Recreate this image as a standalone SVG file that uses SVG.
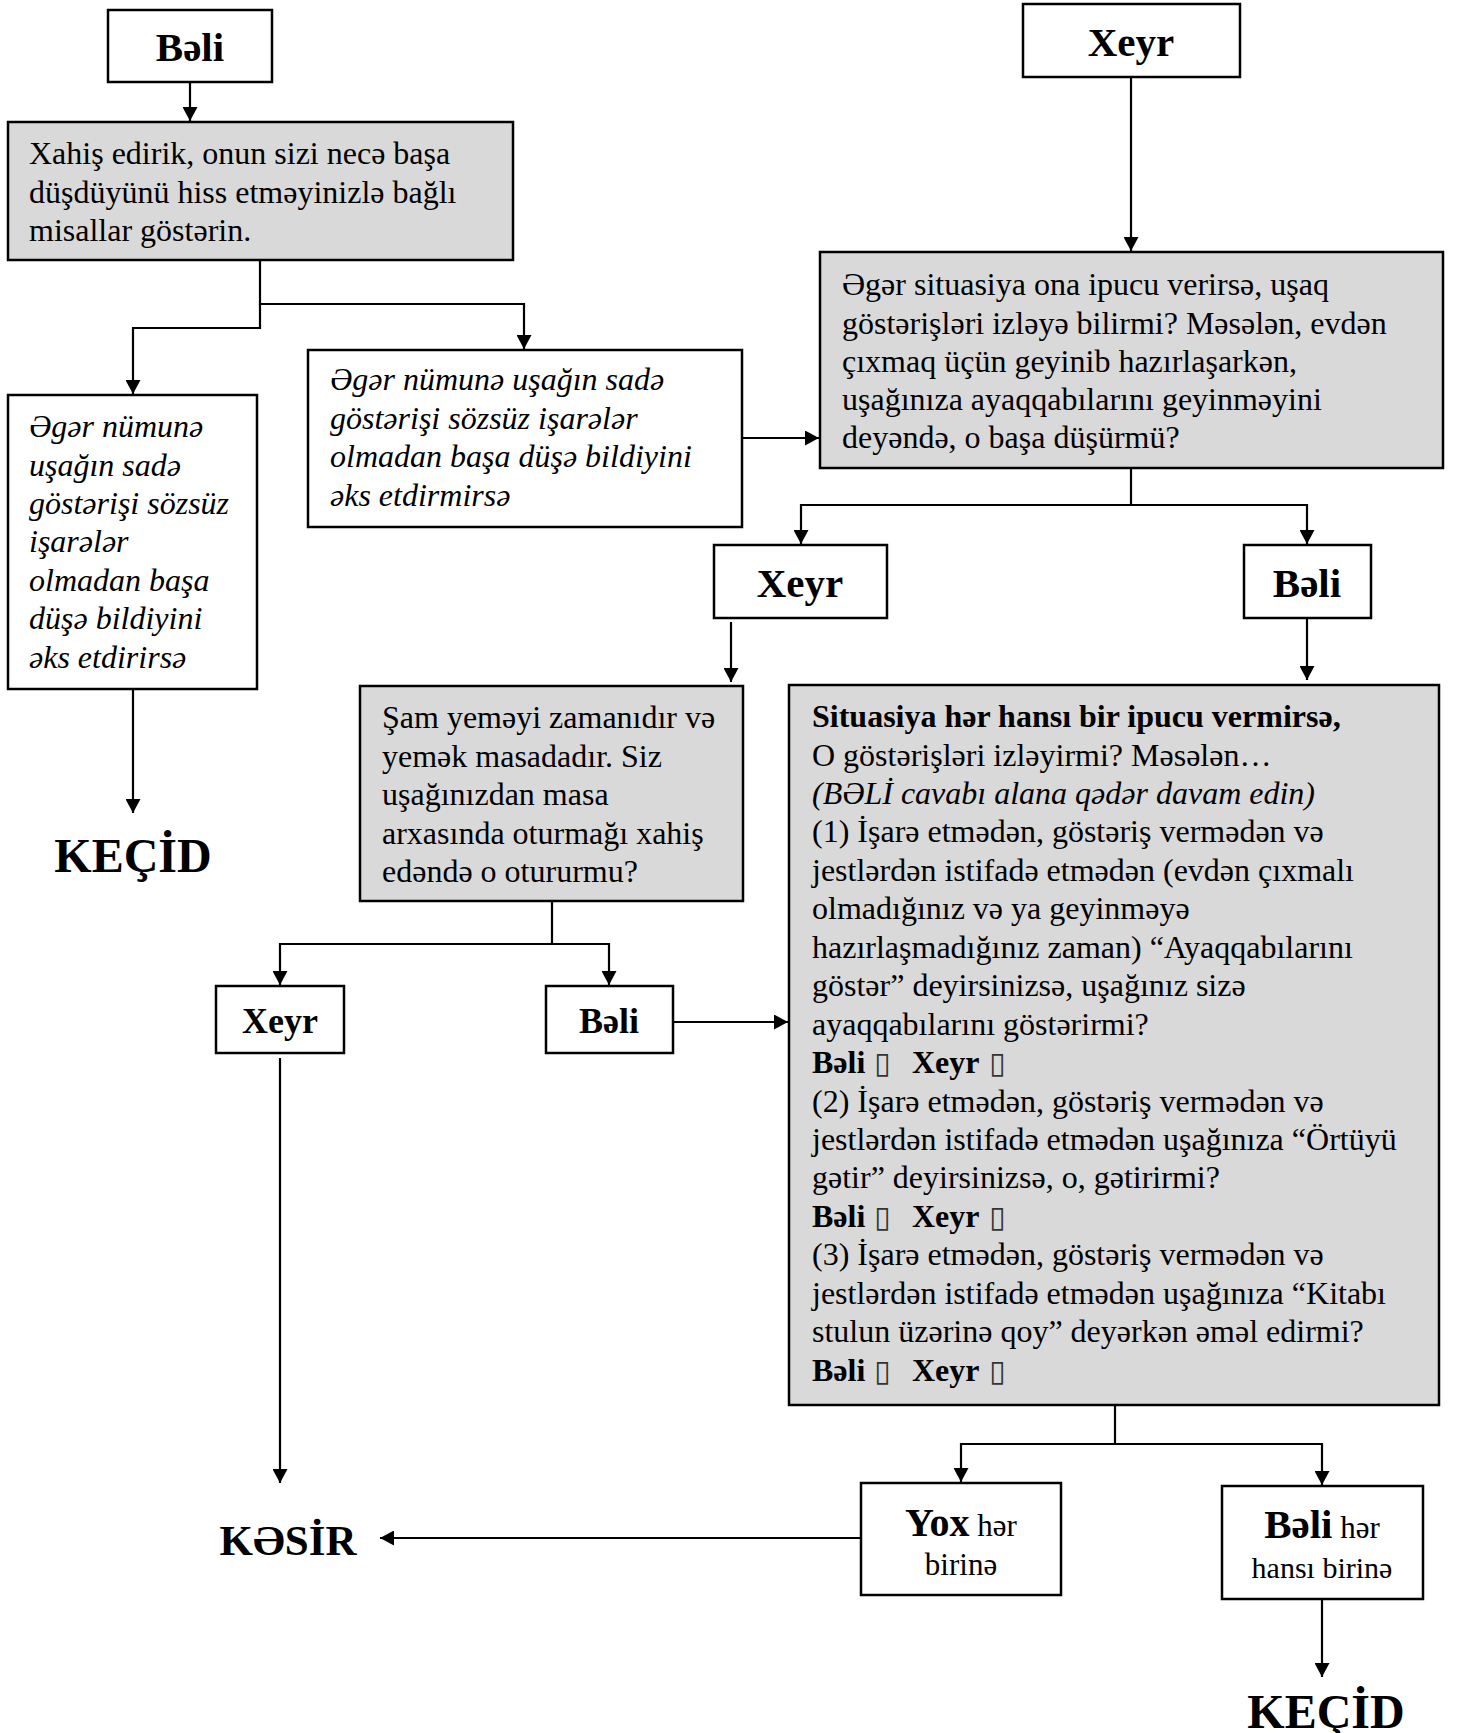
<svg xmlns="http://www.w3.org/2000/svg" width="1457" height="1733" viewBox="0 0 1457 1733">
<style>
.box{fill:#ffffff;stroke:#000;stroke-width:2.5}
.grey{fill:#d9d9d9;stroke:#000;stroke-width:2.5}
.t{font-family:"Liberation Serif","Times New Roman",serif;font-size:32px;fill:#000}
.it{font-style:italic}
.b{font-weight:bold}
.c{text-anchor:middle}
.lbl{font-size:41px;font-weight:bold}
.big{font-size:48px;font-weight:bold}
.chk{font-family:"DejaVu Sans",sans-serif;font-weight:normal;font-size:30px;fill:#333}
.conn path{fill:none;stroke:#000;stroke-width:2.2}
</style>
<defs>
<marker id="arr" markerUnits="userSpaceOnUse" markerWidth="15" markerHeight="15" refX="14" refY="7.5" orient="auto">
<path d="M0,0 L14,7.5 L0,15 z" fill="#000"/>
</marker>
</defs>
<rect width="1457" height="1733" fill="#fff"/>

<g class="conn">
<path d="M190,82 V121" marker-end="url(#arr)"/>
<path d="M260,260 V304 H524 V349" marker-end="url(#arr)"/>
<path d="M260,304 V328 H133 V394" marker-end="url(#arr)"/>
<path d="M133,689 V813" marker-end="url(#arr)"/>
<path d="M742,438 H819" marker-end="url(#arr)"/>
<path d="M1131,77 V251" marker-end="url(#arr)"/>
<path d="M1131,468 V505 H801 V544" marker-end="url(#arr)"/>
<path d="M1131,505 H1307 V544" marker-end="url(#arr)"/>
<path d="M731,622 V682" marker-end="url(#arr)"/>
<path d="M1307,618 V680" marker-end="url(#arr)"/>
<path d="M552,901 V944 H280 V985" marker-end="url(#arr)"/>
<path d="M552,944 H609 V985" marker-end="url(#arr)"/>
<path d="M673,1022 H788" marker-end="url(#arr)"/>
<path d="M280,1058 V1483" marker-end="url(#arr)"/>
<path d="M1115,1405 V1444 H961 V1482" marker-end="url(#arr)"/>
<path d="M1115,1444 H1322 V1485" marker-end="url(#arr)"/>
<path d="M861,1538 H380" marker-end="url(#arr)"/>
<path d="M1322,1599 V1677" marker-end="url(#arr)"/>
</g>

<g id="beli-top">
<rect class="box" x="108" y="10" width="164" height="72"/>
<text class="t lbl c" x="190" y="61">Bəli</text>
</g>

<g id="xahis">
<rect class="grey" x="8" y="122" width="505" height="138"/>
<text class="t">
<tspan x="29" y="164">Xahiş edirik, onun sizi necə başa</tspan>
<tspan x="29" y="202.5">düşdüyünü hiss etməyinizlə bağlı</tspan>
<tspan x="29" y="241">misallar göstərin.</tspan>
</text>
</g>

<g id="eks-etdirirse">
<rect class="box" x="8" y="395" width="249" height="294"/>
<text class="t it">
<tspan x="29" y="437">Əgər nümunə</tspan>
<tspan x="29" y="475.5">uşağın sadə</tspan>
<tspan x="29" y="514">göstərişi sözsüz</tspan>
<tspan x="29" y="552">işarələr</tspan>
<tspan x="29" y="591">olmadan başa</tspan>
<tspan x="29" y="629">düşə bildiyini</tspan>
<tspan x="29" y="668">əks etdirirsə</tspan>
</text>
</g>

<g id="kecid-left">
<text class="t big c" x="133" y="872">KEÇİD</text>
</g>

<g id="eks-etdirmirse">
<rect class="box" x="308" y="350" width="434" height="177"/>
<text class="t it">
<tspan x="330" y="390">Əgər nümunə uşağın sadə</tspan>
<tspan x="330" y="429">göstərişi sözsüz işarələr</tspan>
<tspan x="330" y="467">olmadan başa düşə bildiyini</tspan>
<tspan x="330" y="506">əks etdirmirsə</tspan>
</text>
</g>

<g id="xeyr-top">
<rect class="box" x="1023" y="4" width="217" height="73"/>
<text class="t lbl c" x="1131" y="56">Xeyr</text>
</g>

<g id="situasiya-ipucu">
<rect class="grey" x="820" y="252" width="623" height="216"/>
<text class="t">
<tspan x="842" y="295">Əgər situasiya ona ipucu verirsə, uşaq</tspan>
<tspan x="842" y="334">göstərişləri izləyə bilirmi? Məsələn, evdən</tspan>
<tspan x="842" y="372">çıxmaq üçün geyinib hazırlaşarkən,</tspan>
<tspan x="842" y="410">uşağınıza ayaqqabılarını geyinməyini</tspan>
<tspan x="842" y="448">deyəndə, o başa düşürmü?</tspan>
</text>
</g>

<g id="xeyr-mid">
<rect class="box" x="714" y="545" width="173" height="73"/>
<text class="t lbl c" x="800" y="597">Xeyr</text>
</g>

<g id="beli-mid">
<rect class="box" x="1244" y="545" width="127" height="73"/>
<text class="t lbl c" x="1307" y="597">Bəli</text>
</g>

<g id="sam-yemeyi">
<rect class="grey" x="360" y="686" width="383" height="215"/>
<text class="t">
<tspan x="382" y="728">Şam yeməyi zamanıdır və</tspan>
<tspan x="382" y="767">yemək masadadır. Siz</tspan>
<tspan x="382" y="805">uşağınızdan masa</tspan>
<tspan x="382" y="844">arxasında oturmağı xahiş</tspan>
<tspan x="382" y="882">edəndə o otururmu?</tspan>
</text>
</g>

<g id="situasiya-yox">
<rect class="grey" x="789" y="685" width="650" height="720"/>
<text class="t">
<tspan x="812" y="727" class="b">Situasiya hər hansı bir ipucu vermirsə,</tspan>
<tspan x="812" y="765.5">O göstərişləri izləyirmi? Məsələn…</tspan>
<tspan x="812" y="804" class="it">(BƏLİ cavabı alana qədər davam edin)</tspan>
<tspan x="812" y="842">(1) İşarə etmədən, göstəriş vermədən və</tspan>
<tspan x="812" y="881">jestlərdən istifadə etmədən (evdən çıxmalı</tspan>
<tspan x="812" y="919">olmadığınız və ya geyinməyə</tspan>
<tspan x="812" y="958">hazırlaşmadığınız zaman) “Ayaqqabılarını</tspan>
<tspan x="812" y="996">göstər” deyirsinizsə, uşağınız sizə</tspan>
<tspan x="812" y="1035">ayaqqabılarını göstərirmi?</tspan>
<tspan x="812" y="1073" class="b">Bəli</tspan><tspan x="874" y="1073" class="chk">▯</tspan><tspan x="912" y="1073" class="b">Xeyr</tspan><tspan x="989" y="1073" class="chk">▯</tspan>
<tspan x="812" y="1112">(2) İşarə etmədən, göstəriş vermədən və</tspan>
<tspan x="812" y="1150">jestlərdən istifadə etmədən uşağınıza “Örtüyü</tspan>
<tspan x="812" y="1188">gətir” deyirsinizsə, o, gətirirmi?</tspan>
<tspan x="812" y="1227" class="b">Bəli</tspan><tspan x="874" y="1227" class="chk">▯</tspan><tspan x="912" y="1227" class="b">Xeyr</tspan><tspan x="989" y="1227" class="chk">▯</tspan>
<tspan x="812" y="1265">(3) İşarə etmədən, göstəriş vermədən və</tspan>
<tspan x="812" y="1304">jestlərdən istifadə etmədən uşağınıza “Kitabı</tspan>
<tspan x="812" y="1342">stulun üzərinə qoy” deyərkən əməl edirmi?</tspan>
<tspan x="812" y="1381" class="b">Bəli</tspan><tspan x="874" y="1381" class="chk">▯</tspan><tspan x="912" y="1381" class="b">Xeyr</tspan><tspan x="989" y="1381" class="chk">▯</tspan>
</text>
</g>

<g id="xeyr-low">
<rect class="box" x="216" y="986" width="128" height="67"/>
<text class="t b c" x="280" y="1033" style="font-size:36px">Xeyr</text>
</g>

<g id="beli-low">
<rect class="box" x="546" y="986" width="127" height="67"/>
<text class="t b c" x="609" y="1033" style="font-size:36px">Bəli</text>
</g>

<g id="kesir">
<text class="t b c" x="288" y="1555" style="font-size:43px">KƏSİR</text>
</g>

<g id="yox-her-birine">
<rect class="box" x="861" y="1483" width="200" height="112"/>
<text class="t c" x="961" y="1536" style="font-size:31px"><tspan class="b" style="font-size:40px">Yox</tspan> hər</text>
<text class="t c" x="961" y="1575" style="font-size:31px">birinə</text>
</g>

<g id="beli-her-hansi">
<rect class="box" x="1222" y="1486" width="201" height="113"/>
<text class="t c" x="1322" y="1538" style="font-size:31px"><tspan class="b" style="font-size:41px">Bəli</tspan> hər</text>
<text class="t c" x="1322" y="1578" style="font-size:30px">hansı birinə</text>
</g>

<g id="kecid-bottom">
<text class="t big c" x="1326" y="1728">KEÇİD</text>
</g>
</svg>
